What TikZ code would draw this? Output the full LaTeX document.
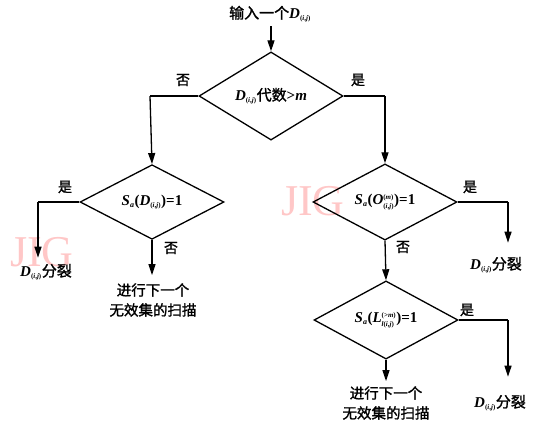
\documentclass[tikz,border=0pt]{standalone}
\usepackage{fontspec}
\setmainfont{Liberation Serif}
\newfontfamily\cjk[FakeBold=1.5]{Noto Sans CJK SC}
\usetikzlibrary{shapes.geometric,arrows.meta}
\newcommand{\Dsub}{\textbf{\textit{D}}$_{\mbox{\scriptsize\bfseries(\textit{i},\textit{j})}}$}
\newcommand{\Sa}{\textbf{\textit{S}}$_{\mbox{\footnotesize\bfseries\textit{a}}}$}
\begin{document}
\begin{tikzpicture}[x=1pt,y=-1pt,
  every node/.style={font=\fontsize{15}{17}\selectfont, inner sep=0pt},
  dia/.style={diamond, draw, line width=1.3pt, minimum width=144pt, minimum height=70pt, inner sep=0pt},
  conn/.style={line width=1.3pt, -{Triangle[length=11pt,width=7pt]}},
  seg/.style={line width=1.3pt},
  lbl/.style={font=\cjk\fontsize{14}{16}\selectfont},
  two/.style={align=center, font=\cjk\fontsize{14.5}{20}\selectfont},
  wm/.style={text=red!22, font=\fontsize{44}{46}\selectfont}]
\useasboundingbox (0,0) rectangle (540,429);
% watermarks
\node[wm] (wm1) at (42,252) {JIG};
\node[wm] (wm2) at (313,201) {JIG};
% nodes
\node (start) at (270,14) {{\cjk 输入一个}\Dsub};
\node[dia] (d1) at (271,96) {\Dsub{\cjk 代数}\textbf{>\textit{m}}};
\node[dia] (d2) at (152,202) {\Sa\textbf{(}\Dsub\textbf{)=1}};
\node[dia] (d3) at (385,202) {\Sa\textbf{(}$\textbf{\textit{O}}^{\mbox{\scriptsize\bfseries(\textit{m})}}_{\mbox{\scriptsize\bfseries(\textit{i},\textit{j})}}$\textbf{)=1}};
\node[dia] (d4) at (386,320) {\Sa\textbf{(}$\textbf{\textit{L}}^{\mbox{\scriptsize\bfseries(>\textit{m})}}_{\mbox{\scriptsize\bfseries\textit{l}(\textit{i},\textit{j})}}$\textbf{)=1}};
\node (split1) at (46,272) {\Dsub{\cjk 分裂}};
\node[two] (next1) at (153,300) {进行下一个\\无效集的扫描};
\node (split2) at (496,265) {\Dsub{\cjk 分裂}};
\node[two] (next2) at (386,403) {进行下一个\\无效集的扫描};
\node (split3) at (500,403) {\Dsub{\cjk 分裂}};
% corner coordinates
\coordinate (c1) at (150,96);
\coordinate (c2) at (385,96);
\coordinate (c3) at (38,202);
\coordinate (c4) at (508,202);
\coordinate (c5) at (508,320);
% connectors
\draw[conn] (start.south -| d1.north) ++(0,4) -- (d1.north);
\draw[seg] (d1.west) -- (c1);
\draw[conn] (c1) -- (d2.north);
\draw[seg] (d1.east) -- (c2);
\draw[conn] (c2) -- (d3.north);
\draw[seg] (d2.west) -- (c3);
\draw[conn] (c3) -- ([yshift=6pt]split1.north -| c3);
\draw[conn] (d2.south) -- ([yshift=8pt]next1.north -| d2.south);
\draw[seg] (d3.east) -- (c4);
\draw[conn] (c4) -- ([yshift=14pt]split2.north -| c4);
\draw[conn] (d3.south) -- (d4.north);
\draw[seg] (d4.east) -- (c5);
\draw[conn] (c5) -- ([yshift=18pt]split3.north -| c5);
\draw[conn] (d4.south) -- ([yshift=5pt]next2.north -| d4.south);
% labels
\node[lbl] (l1) at (183,80) {否};
\node[lbl] (l2) at (358,80) {是};
\node[lbl] (l3) at (65,187) {是};
\node[lbl] (l4) at (171,248) {否};
\node[lbl] (l5) at (470,187) {是};
\node[lbl] (l6) at (403,247) {否};
\node[lbl] (l7) at (467,310) {是};
\end{tikzpicture}
\end{document}
